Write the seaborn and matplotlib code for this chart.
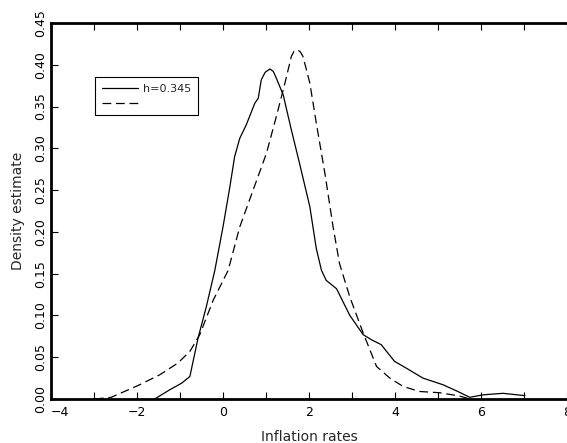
import numpy as np
import pandas as pd
import matplotlib
matplotlib.use("Agg")
import matplotlib.pyplot as plt
import seaborn as sns
from matplotlib.ticker import MultipleLocator

# Solid curve (h=0.345)
solid_x = [-1.59, -1.24, -0.96, -0.77, -0.58, -0.39, -0.19, 0.00, 0.16, 0.27, 0.39,
           0.54, 0.74, 0.82, 0.89, 0.98, 1.09, 1.17, 1.24, 1.40, 1.59, 1.78, 2.02, 2.17, 2.29,
           2.40, 2.64, 2.95, 3.26, 3.45, 3.68, 3.99, 4.26, 4.65, 5.12, 5.46, 5.74,
           6.05, 6.51, 7.02]
solid_y = [0.000, 0.011, 0.019, 0.027, 0.073, 0.110, 0.154, 0.206, 0.254, 0.290, 0.312,
           0.328, 0.354, 0.360, 0.382, 0.391, 0.395, 0.392, 0.384, 0.364, 0.322, 0.282, 0.230, 0.180, 0.154,
           0.142, 0.132, 0.100, 0.077, 0.071, 0.065, 0.045, 0.037, 0.025, 0.017, 0.009, 0.002,
           0.005, 0.0068, 0.004]

# Dashed curve
dash_x = [-2.98, -2.60, -1.94, -1.47, -1.05, -0.77, -0.54, -0.23, 0.12, 0.39, 0.70,
          1.01, 1.24, 1.44, 1.59, 1.65, 1.72, 1.79, 1.86, 2.02, 2.17, 2.37, 2.56, 2.71, 2.95,
          3.26, 3.57, 3.88, 4.19, 4.57, 5.04, 5.50, 5.74]
dash_y = [0.000, 0.002, 0.017, 0.029, 0.043, 0.057, 0.077, 0.118, 0.154, 0.206, 0.250,
          0.294, 0.338, 0.378, 0.410, 0.416, 0.418, 0.416, 0.410, 0.378, 0.330, 0.270, 0.206, 0.162, 0.122,
          0.079, 0.039, 0.025, 0.015, 0.009, 0.0075, 0.0036, 0.000]

legend_labels = ["h=0.345", " "]
x_label = "Inflation rates"
y_label = "Density estimate"
x_ticks = [-4, -2, 0, 2, 4, 6, 8]
x_tick_labels = ["\u22124", "\u22122", "0", "2", "4", "6", "8"]
y_ticks = [0.00, 0.05, 0.10, 0.15, 0.20, 0.25, 0.30, 0.35, 0.40, 0.45]

sns.set_style("ticks")
plt.rcParams['font.family'] = ['DejaVu Sans']

fig = plt.figure(figsize=(5.67, 4.43), dpi=100)
ax = fig.add_axes([51/567, 44/443, 516/567, 376/443])

df_s = pd.DataFrame({"x": solid_x, "y": solid_y})
df_d = pd.DataFrame({"x": dash_x, "y": dash_y})
sns.lineplot(data=df_s, x="x", y="y", ax=ax, color="black", lw=0.9,
             sort=False, estimator=None, label=legend_labels[0])
sns.lineplot(data=df_d, x="x", y="y", ax=ax, color="black", lw=0.9,
             linestyle=(0, (7, 3.8)), sort=False, estimator=None, label=legend_labels[1])

ax.set_xlim(-4, 8)
ax.set_ylim(0, 0.45)
ax.set_xticks(x_ticks)
ax.set_xticklabels(x_tick_labels)
ax.get_xticklabels()[0].set_horizontalalignment("left")
ax.xaxis.set_minor_locator(MultipleLocator(1))
ax.set_yticks(y_ticks)
ax.set_yticklabels([f"{v:.2f}" for v in y_ticks], rotation=90, va="center")

ax.tick_params(axis="both", which="both", direction="in", length=5, width=0.8,
               top=True, right=False, labelsize=9, colors="black")
ax.tick_params(axis="x", pad=5)
ax.tick_params(axis="y", pad=3)

for s in ["left", "bottom", "top"]:
    ax.spines[s].set_linewidth(2.0)
    ax.spines[s].set_color("black")
ax.spines["right"].set_visible(False)

ax.set_xlabel(x_label, fontsize=10, labelpad=8)
ax.set_ylabel(y_label, fontsize=10, labelpad=6)

leg = ax.legend(loc="upper left", bbox_to_anchor=(0.085, 0.856), borderaxespad=0,
                fancybox=False, framealpha=1, edgecolor="black", fontsize=8,
                handlelength=3.3, borderpad=0.6, labelspacing=0.45, handletextpad=0.4)
leg.get_frame().set_linewidth(0.8)

fig.savefig("out.png", dpi=100)
